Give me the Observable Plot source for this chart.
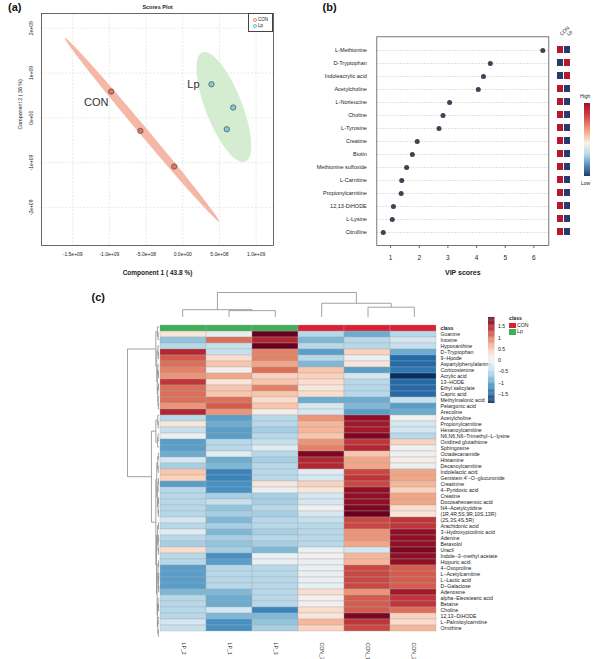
<!DOCTYPE html>
<html><head><meta charset="utf-8">
<script src="https://cdn.jsdelivr.net/npm/d3@7"></script>
<script src="https://cdn.jsdelivr.net/npm/@observablehq/plot@0.6"></script>
<style>
body{margin:0;background:#fff;}
#fig{position:relative;width:593px;height:659px;overflow:hidden;font-family:"Liberation Sans",Arial,sans-serif;color:#222;}
#fig svg{position:absolute;left:0;top:0;}
.t{position:absolute;white-space:nowrap;line-height:1;}
.pl{position:absolute;font-weight:bold;font-size:11px;line-height:1;color:#111;}
</style></head><body><div id="fig"></div>
<script>
// ---------- Panel (a) data ----------
const xTicksA = [-1.5e9, -1e9, -5e8, 0, 5e8, 1e9];
const xTickLabelsA = ["-1.5e+09","-1.0e+09","-5.0e+08","0.0e+00","5.0e+08","1.0e+09"];
const yTicksA = [2e9, 1e9, 0, -1e9, -2e9];
const yTickLabelsA = ["2e+09","1e+09","0e+00","-1e+09","-2e+09"];
const scoreGroups = ["CON","CON","CON","Lp","Lp","Lp"];
const comp1 = [-0.975e9, -0.578e9, -0.117e9, 0.391e9, 0.687e9, 0.600e9];
const comp2 = [0.587e9, -0.290e9, -1.087e9, 0.750e9, 0.230e9, -0.254e9];

// ---------- Panel (b) data ----------
const vipNames = ["L-Methionine","D-Tryptophan","Indoleacrylic acid","Acetylcholine","L-Norleucine","Choline","L-Tyrosine","Creatine","Biotin","Methionine sulfoxide","L-Carnitine","Propionylcarnitine","12,13-DiHODE","L-Lysine","Citrulline"];
const vipScores = [6.31, 4.48, 4.24, 4.06, 3.06, 2.83, 2.69, 1.93, 1.76, 1.56, 1.39, 1.37, 1.10, 1.06, 0.745];
const vipCON = ["High","Low","Low","High","High","High","High","High","High","High","High","High","High","High","High"];
const vipLp  = ["Low","High","High","Low","Low","Low","Low","Low","Low","Low","Low","Low","Low","Low","Low"];
const vipXTicks = [1, 2, 3, 4, 5, 6];

// ---------- Panel (c) data ----------
const sampleNames = ["LP_2","LP_1","LP_3","CON_3","CON_1","CON_2"];
const sampleClass = ["Lp","Lp","Lp","CON","CON","CON"];
const rowNames = ["Guanine","Inosine","Hypoxanthine","D−Tryptophan","9−Hpode","Aspartylphenylalanine","Corticosterone","Acrylic acid","13−HODE","Ethyl salicylate","Capric acid","Methylmalonic acid","Pelargonic acid","Arecoline","Acetylcholine","Propionylcarnitine","Hexanoylcarnitine","N6,N6,N6−Trimethyl−L−lysine","Oxidized glutathione","Sphingosine","Octadecanamide","Histamine","Decanoylcarnitine","Indolelactic acid","Genistein 4'−O−glucuronide","Creatinine","4−Pyridoxic acid","Creatine","Docosahexaenoic acid","N4−Acetylcytidine","(1R,4R,5S,9R,10S,13R)","(2S,3S,4S,5R)","Arachidonic acid","3−Hydroxypicolinic acid","Adenine","Betaxolol","Uracil","Indole−3−methyl acetate","Hippuric acid","4−Oxoproline","L−Acetylcarnitine","L−Lactic acid","D−Galactose","Adenosine","alpha−Eleostearic acid","Betaine","Choline","12,13−DiHODE","L−Palmitoylcarnitine","Ornithine"];
const lp2 = [0.2,-0.7,-0.5,1.4,1.1,1.0,0.9,0.8,1.3,1.0,1.0,1.0,0.8,1.4, -0.5,0.2,-0.4,-0.1,-1.0,-1.0,-0.9,-0.3,-0.6, 0.5,0.4,-1.0,-0.5,-0.5,-0.5,-0.5,-0.5, -0.3,-0.5,-0.2,-0.5,-0.6,0.3,-0.5,-0.5, -1.0,-1.0,-1.0,-1.0,-0.8,-0.5,-0.5,-0.5,-0.5,-0.3,-0.4];
const lp1 = [-0.15,1.0,-0.4,-0.4,0.3,0.5,0.0,0.7,0.2,0.5,0.5,1.0,1.1,0.8, -1.0,-0.9,-1.0,-1.0,-0.5,-0.5,-0.2,-0.9,-0.8, -1.2,-1.2,-1.1,-1.1,-0.6,-0.4,-0.7,-0.6, -0.8,-0.6,-0.8,-0.6,-0.7,-0.6,-1.1,-1.0, -0.5,-0.5,-0.5,-0.5,-0.8,-0.9,-0.9,-0.3,-0.8,-1.1,-1.1];
const lp3 = [1.8,1.4,1.8,0.9,0.9,0.7,1.0,0.4,0.5,0.9,0.5,0.3,0.5,0.1, -0.5,-0.5,-0.6,-0.5,-0.4,-0.2,-0.5,-0.6,-0.5, -0.5,-0.5,0.2,-0.1,-0.6,-0.6,-0.5,-0.6, -0.5,-0.5,-0.6,-0.5,-0.6,-0.8,-0.1,-0.1, -0.5,-0.5,-0.5,-0.5,-0.5,-0.5,-0.5,-1.2,-0.8,-0.7,-0.6];
const con3 = [-0.5,-0.8,-0.5,-1.0,-0.5,-0.8,0.5,0.4,0.3,0.2,0.3,-0.9,-0.3,-0.3, 0.8,0.6,0.6,0.5,0.8,0.9,1.7,1.4,1.4, -0.2,-0.3,0.4,0.2,-0.3,-0.3,0.0,-0.3, -0.4,-0.5,-0.5,-0.5,-0.5,-0.1,0.0,-0.1, -0.1,-0.1,-0.1,-0.1,0.3,0.0,0.0,0.3,0.2,0.6,0.4];
const con1 = [-0.9,-0.5,-0.5,0.4,-0.1,0.2,-1.0,-0.3,-0.5,-0.5,-0.5,-0.9,-0.8,-1.0, 1.6,1.5,1.5,1.7,1.3,1.4,0.5,0.7,0.7, 1.2,1.3,1.2,1.6,1.6,1.6,1.7,1.9, 1.2,1.2,0.8,0.8,0.7,-0.3,0.6,0.6, 1.2,1.2,1.2,1.2,0.8,1.1,1.1,1.1,1.7,1.3,1.2];
const con2 = [-0.5,-0.3,-0.4,-0.9,-1.4,-1.4,-1.3,-1.8,-1.4,-1.4,-1.4,-0.4,-1.0,-0.9, 0.0,-0.3,-0.3,-0.5,0.4,-0.05,0.0,0.1,-0.1, 0.7,0.7,0.6,0.4,0.7,0.7,0.3,0.2, 1.3,1.3,1.6,1.6,1.6,1.7,1.6,1.6, 1.1,1.1,1.1,1.1,1.5,1.3,1.3,1.0,0.4,0.3,0.6];
const colorbarTicks = [1.5, 1, 0.5, 0, -0.5, -1, -1.5];
// dendrograms: [left, right, merge height]
const colTree = [[0, [1, 2, 2.6], 3.0], [3, [4, 5, 4.0], 5.6], 10];
const rowTree = [
  [[0, [1, 2, 0.3], 0.5],
   [[3, [4, 5, 0.2], 0.35], [[6, [7, 8, 0.2], 0.35], [[9, 10, 0.2], [11, [12, 13, 0.2], 0.3], 0.4], 0.55], 0.7], 1.0],
  [[[14, [15, 16, 0.25], 0.4], [[17, 18, 0.3], 19, 0.45], 1.0],
   [[[[20, 21, 0.2], [22, 23, 0.25], 0.4], [[[24, 25, 0.2], 26, 0.3], [[27, 28, 0.15], [29, 30, 0.2], 0.3], 0.5], 0.7],
    [[[31, 32, 0.2], [[33, 34, 0.15], [35, 36, 0.2], 0.3], 0.45],
     [[[37, 38, 0.15], [[39, 40, 0.1], [41, 42, 0.1], 0.2], 0.35], [[43, [44, 45, 0.15], 0.3], [[46, 47, 0.3], [48, 49, 0.2], 0.4], 0.5], 0.6], 0.8], 1.0], 2.4],
  10];

// ---------- helpers ----------
const W = 593, H = 659;
const FONT = "'Liberation Sans', Arial, sans-serif";
const fig = document.getElementById("fig");
const fmtMinus = d => String(d).replace("-", "−");
function base(o) {
  return Object.assign({width: W, height: H, style: {background: "transparent", fontFamily: FONT, overflow: "visible", color: "#222"}}, o);
}
function add(el) { fig.appendChild(el); }
function html(cls, text, css) { const d = document.createElement("div"); d.className = cls; d.textContent = text; Object.assign(d.style, css); fig.appendChild(d); return d; }
function ellipse(xs, ys) {
  const n = xs.length, mx = d3.mean(xs), my = d3.mean(ys);
  let sxx = 0, syy = 0, sxy = 0;
  for (let i = 0; i < n; i++) { const dx = xs[i] - mx, dy = ys[i] - my; sxx += dx*dx; syy += dy*dy; sxy += dx*dy; }
  sxx /= n - 1; syy /= n - 1; sxy /= n - 1;
  const tr = sxx + syy, det = sxx*syy - sxy*sxy;
  const disc = Math.sqrt(Math.max(0, tr*tr/4 - det));
  const l1 = tr/2 + disc, l2 = Math.max(0, tr/2 - disc);
  const th = Math.atan2(l1 - sxx, sxy);
  const c = Math.sqrt(5.991);
  return d3.range(0, 121).map(k => {
    const t = 2*Math.PI*k/120, a = c*Math.sqrt(l1)*Math.cos(t), b = c*Math.sqrt(l2)*Math.sin(t);
    return {x: mx + a*Math.cos(th) - b*Math.sin(th), y: my + a*Math.sin(th) + b*Math.cos(th)};
  });
}
function treeSegs(tree) {
  const segs = [];
  (function walk(node) {
    if (typeof node === "number") return {p: node, h: 0};
    const [a, b, h] = node; const A = walk(a), B = walk(b);
    segs.push({p1: A.p, h1: A.h, p2: A.p, h2: h});
    segs.push({p1: B.p, h1: B.h, p2: B.p, h2: h});
    segs.push({p1: A.p, h1: h, p2: B.p, h2: h});
    return {p: (A.p + B.p)/2, h};
  })(tree);
  return segs;
}

// ---------- Panel (a) ----------
const scoreData = comp1.map((x, i) => ({x, y: comp2[i], g: scoreGroups[i]}));
const conIdx = scoreGroups.map((g, i) => g === "CON" ? i : -1).filter(i => i >= 0);
const lpIdx = scoreGroups.map((g, i) => g === "Lp" ? i : -1).filter(i => i >= 0);
const ellCON = ellipse(conIdx.map(i => comp1[i]), conIdx.map(i => comp2[i]));
const ellLp = ellipse(lpIdx.map(i => comp1[i]), lpIdx.map(i => comp2[i]));
add(Plot.plot(base({
  marginLeft: 41, marginRight: W - 273, marginTop: 13, marginBottom: H - 245,
  x: {domain: [-1.925e9, 1.236e9]}, y: {domain: [-2.85e9, 2.33e9]},
  color: {domain: ["CON", "Lp"], range: ["#e4725a", "#82c8dc"]},
  marks: [
    Plot.gridX(xTicksA, {stroke: "#dadada", strokeOpacity: 1, strokeDasharray: "2,1.5", strokeWidth: 0.6}),
    Plot.gridY(yTicksA, {stroke: "#dadada", strokeOpacity: 1, strokeDasharray: "2,1.5", strokeWidth: 0.6}),
    Plot.line(ellCON, {x: "x", y: "y", fill: "#f6b8a6", stroke: "none"}),
    Plot.line(ellLp, {x: "x", y: "y", fill: "#d4edd1", stroke: "none"}),
    Plot.frame({stroke: "#444", strokeWidth: 0.8}),
    Plot.dot(scoreData, {x: "x", y: "y", r: 2.7, fill: "g", stroke: "#3a3a3a", strokeWidth: 0.6}),
    Plot.text([scoreData[conIdx[0]]], {x: "x", y: "y", text: "g", dx: -15, dy: 11, fontSize: 11, fill: "#333"}),
    Plot.text([scoreData[lpIdx[0]]], {x: "x", y: "y", text: "g", dx: -18, dy: 0, fontSize: 11, fill: "#333"}),
    Plot.axisX(xTicksA, {tickFormat: d => xTickLabelsA[xTicksA.indexOf(d)], tickSize: 0, tickPadding: 7, fontSize: 5, label: null}),
    Plot.axisY(yTicksA, {tickFormat: d => yTickLabelsA[yTicksA.indexOf(d)], tickSize: 0, tickPadding: 9, tickRotate: -90, fontSize: 5, label: null}),
    Plot.text(["Component 1 ( 43.8 %)"], {frameAnchor: "bottom", dy: 29, fontWeight: "bold", fontSize: 6.5}),
    Plot.text(["Component 2 ( 38 %)"], {frameAnchor: "left", dx: -21, rotate: -90, fontSize: 5.3}),
    Plot.text(["Scores Plot"], {frameAnchor: "top", dy: -8, fontWeight: "bold", fontSize: 5.5})
  ]
})));
// legend box (a)
const lg = html("t", "", {left: "248px", top: "13px", width: "24.5px", height: "19px", border: "0.6px solid #444", background: "#fff", boxSizing: "border-box"});
[["CON", "#ef7f5e", 3.5], ["Lp", "#54bfd6", 9.5]].forEach(([lab, col, top]) => {
  const c = document.createElement("div");
  Object.assign(c.style, {position: "absolute", left: "3.5px", top: (top + 0.5) + "px", width: "2.4px", height: "2.4px", border: "0.8px solid " + col, borderRadius: "50%"});
  lg.appendChild(c);
  const s = document.createElement("div"); s.textContent = lab;
  Object.assign(s.style, {position: "absolute", left: "9px", top: top + "px", fontSize: "4.5px", lineHeight: "1"});
  lg.appendChild(s);
});

// ---------- Panel (b) ----------
const vipData = vipNames.map((n, i) => ({name: n, score: vipScores[i]}));
add(Plot.plot(base({
  marginLeft: 376.3, marginRight: W - 548.3, marginTop: 36.3, marginBottom: H - 245,
  x: {domain: [0.52, 6.52]}, y: {type: "point", domain: vipNames, padding: 1},
  marks: [
    Plot.ruleY(vipNames, {y: d => d, stroke: "#c4c4c4", strokeDasharray: "1.5,1.5", strokeWidth: 0.7}),
    Plot.frame({stroke: "#555", strokeWidth: 0.8}),
    Plot.dot(vipData, {x: "score", y: "name", r: 2.5, fill: "#3d4254"}),
    Plot.axisY({tickSize: 0, tickPadding: 10, fontSize: 5.5, label: null}),
    Plot.axisX(vipXTicks, {tickSize: 3, tickPadding: 7, fontSize: 6.5, stroke: "#666", label: null}),
    Plot.text(["VIP scores"], {frameAnchor: "bottom", dy: 29, fontWeight: "bold", fontSize: 7})
  ]
})));
const miniData = vipNames.flatMap((n, i) => [{name: n, group: "CON", level: vipCON[i]}, {name: n, group: "Lp", level: vipLp[i]}]);
add(Plot.plot(base({
  marginLeft: 555.5, marginRight: W - 571.5, marginTop: 36.3, marginBottom: H - 245,
  x: {domain: ["CON", "Lp"], padding: 0.08},
  y: {domain: vipNames, paddingInner: 0.45, paddingOuter: 0.725, axis: null},
  color: {domain: ["High", "Low"], range: ["#b5172d", "#283b6c"]},
  marks: [
    Plot.cell(miniData, {x: "group", y: "name", fill: "level"}),
    Plot.axisX({anchor: "top", tickSize: 0, tickPadding: 2, tickRotate: -45, fontSize: 5, label: null})
  ]
})));
html("t", "High", {left: "580px", top: "94px", fontSize: "5px"});
html("t", "", {left: "584px", top: "103px", width: "5.5px", height: "73px", background: "linear-gradient(to bottom, #a50f26 0%, #d6434b 18%, #f4a582 38%, #fcf3e4 55%, #b9d9ea 70%, #5b8fc0 85%, #213a6c 100%)"});
html("t", "Low", {left: "581px", top: "180.5px", fontSize: "5px"});

// ---------- Panel (c) ----------
const cols = [lp2, lp1, lp3, con3, con1, con2];
const heatCells = rowNames.flatMap((n, i) => sampleNames.map((s, j) => ({name: n, sample: s, value: cols[j][i]})));
const colorC = {type: "linear", scheme: "rdbu", reverse: true, domain: [-1.8, 1.8], clamp: true};
add(Plot.plot(base({
  marginLeft: 159, marginRight: W - 437, marginTop: 317, marginBottom: H - 639,
  x: {domain: sampleNames, padding: 0},
  y: {domain: ["class", ...rowNames], padding: 0},
  color: colorC,
  marks: [
    Plot.cell(heatCells, {x: "sample", y: "name", fill: "value", stroke: "#a9a9a9", strokeWidth: 0.35}),
    Plot.cell(sampleNames.filter((s, j) => sampleClass[j] === "Lp"), {x: d => d, y: () => "class", fill: "#3fae57", stroke: "#a9a9a9", strokeWidth: 0.35}),
    Plot.cell(sampleNames.filter((s, j) => sampleClass[j] === "CON"), {x: d => d, y: () => "class", fill: "#dd1f32", stroke: "#a9a9a9", strokeWidth: 0.35}),
    Plot.axisY(rowNames, {anchor: "right", tickSize: 0, tickPadding: 3, fontSize: 5.2, label: null}),
    Plot.text(["class"], {y: d => d, frameAnchor: "right", dx: 3, textAnchor: "start", fontWeight: "bold", fontSize: 5.2}),
    Plot.axisX({anchor: "bottom", tickSize: 0, tickPadding: 3, tickRotate: 90, fontSize: 5.2, label: null})
  ]
})));
// column dendrogram
add(Plot.plot(base({
  marginLeft: 159, marginRight: W - 437, marginTop: 292, marginBottom: H - 316.5,
  x: {domain: [0, sampleNames.length], axis: null}, y: {domain: [0, 10], axis: null},
  marks: [
    Plot.link(treeSegs(colTree), {x1: d => d.p1 + 0.5, y1: "h1", x2: d => d.p2 + 0.5, y2: "h2", stroke: "#8a8a8a", strokeWidth: 0.8})
  ]
})));
// row dendrogram
add(Plot.plot(base({
  marginLeft: 127, marginRight: W - 158.5, marginTop: 317, marginBottom: H - 639,
  x: {domain: [10, 0], axis: null}, y: {domain: [0, rowNames.length + 1], reverse: true, axis: null},
  marks: [
    Plot.link(treeSegs(rowTree), {x1: "h1", y1: d => d.p1 + 1.5, x2: "h2", y2: d => d.p2 + 1.5, stroke: "#8a8a8a", strokeWidth: 0.8})
  ]
})));
// colour bar
const barSteps = d3.range(-1.9, 1.9, 0.038);
add(Plot.plot(base({
  marginLeft: 488, marginRight: W - 494.5, marginTop: 317, marginBottom: H - 403,
  x: {domain: [0, 1], axis: null}, y: {domain: [-1.9, 1.9]},
  color: colorC,
  marks: [
    Plot.rect(barSteps, {x1: 0, x2: 1, y1: d => d, y2: d => d + 0.04, fill: d => d + 0.019}),
    Plot.axisY(colorbarTicks, {anchor: "right", tickSize: 0, tickPadding: 3, fontSize: 5.2, tickFormat: fmtMinus, label: null})
  ]
})));
// class legend
html("t", "class", {left: "509px", top: "315.5px", fontSize: "5.2px", fontWeight: "bold"});
html("t", "", {left: "509.3px", top: "322.5px", width: "6.3px", height: "5.8px", background: "#dd1f32"});
html("t", "CON", {left: "517px", top: "322.6px", fontSize: "5.2px"});
html("t", "", {left: "509.3px", top: "329px", width: "6.3px", height: "5.8px", background: "#3fae57"});
html("t", "Lp", {left: "517px", top: "329.2px", fontSize: "5.2px"});

// panel letters
html("pl", "(a)", {left: "8px", top: "2px"});
html("pl", "(b)", {left: "322.5px", top: "2px"});
html("pl", "(c)", {left: "91.5px", top: "292px"});
</script></body></html>
